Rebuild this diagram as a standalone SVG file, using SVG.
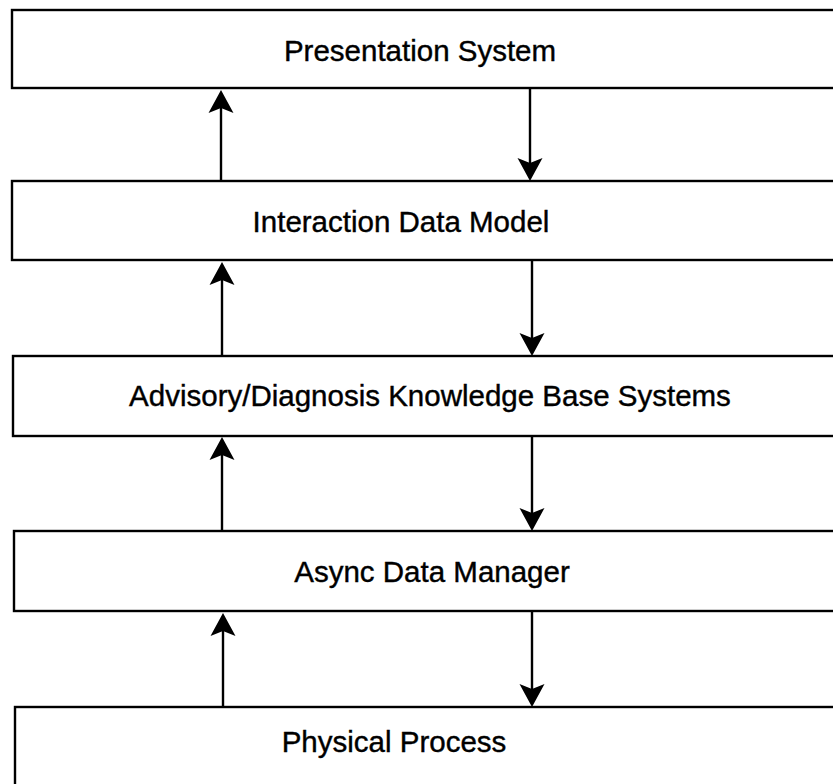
<svg xmlns="http://www.w3.org/2000/svg" width="833" height="784" viewBox="0 0 833 784">
<style>
.box{fill:#fff;stroke:#000;stroke-width:2.4}
.lbl{font-family:"Liberation Sans",Arial,sans-serif;font-size:29.5px;fill:#000;stroke:#000;stroke-width:0.4;text-anchor:middle}
.wire{stroke:#000;stroke-width:2.4;fill:none}
.head{fill:#000}
</style>
<defs>
<path id="ah" d="M0,0 L-12.5,-23 L0,-18 L12.5,-23 Z"/>
</defs>
<rect width="833" height="784" fill="#fff"/>
<g id="presentation-system">
<rect class="box" x="12" y="10" width="850" height="78"/>
<text class="lbl" x="420" y="61">Presentation System</text>
</g>
<g id="interaction-data-model">
<rect class="box" x="12" y="181" width="850" height="79"/>
<text class="lbl" x="401" y="232">Interaction Data Model</text>
</g>
<g id="knowledge-base-systems">
<rect class="box" x="13" y="356" width="850" height="80"/>
<text class="lbl" x="430" y="406">Advisory/Diagnosis Knowledge Base Systems</text>
</g>
<g id="async-data-manager">
<rect class="box" x="14" y="531" width="850" height="80"/>
<text class="lbl" x="432" y="582">Async Data Manager</text>
</g>
<g id="physical-process">
<rect class="box" x="15" y="707" width="850" height="100"/>
<text class="lbl" x="394" y="752">Physical Process</text>
</g>
<g id="connectors">
<line class="wire" x1="221" y1="181" x2="221" y2="100"/>
<use href="#ah" class="head" transform="translate(221,90) rotate(180)"/>
<line class="wire" x1="530" y1="88" x2="530" y2="170"/>
<use href="#ah" class="head" transform="translate(530,181)"/>
<line class="wire" x1="222" y1="356" x2="222" y2="272"/>
<use href="#ah" class="head" transform="translate(222,262) rotate(180)"/>
<line class="wire" x1="532" y1="260" x2="532" y2="345"/>
<use href="#ah" class="head" transform="translate(532,356)"/>
<line class="wire" x1="222" y1="531" x2="222" y2="447"/>
<use href="#ah" class="head" transform="translate(222,437) rotate(180)"/>
<line class="wire" x1="532" y1="436" x2="532" y2="520"/>
<use href="#ah" class="head" transform="translate(532,531)"/>
<line class="wire" x1="223" y1="707" x2="223" y2="623"/>
<use href="#ah" class="head" transform="translate(223,613) rotate(180)"/>
<line class="wire" x1="532" y1="611" x2="532" y2="696"/>
<use href="#ah" class="head" transform="translate(532,707)"/>
</g>
</svg>
